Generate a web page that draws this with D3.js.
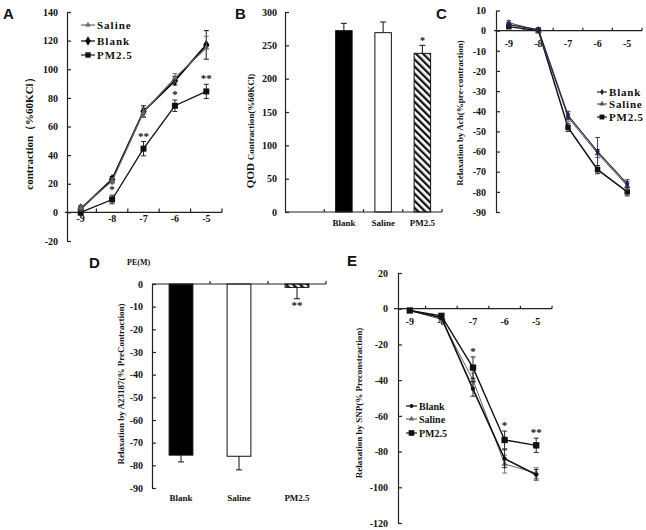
<!DOCTYPE html>
<html>
<head>
<meta charset="utf-8">
<script src="https://cdn.jsdelivr.net/npm/d3@7"></script>
<style>
  body { margin: 0; background: #fff; }
  text { font-family: "Liberation Serif", "Times New Roman", serif; font-weight: bold; fill: #111; }
  .letter { font-family: "Liberation Sans", Arial, sans-serif; font-size: 15px; font-weight: bold; }
</style>
</head>
<body>
<script>
// ---- data ----
var doses = [-9, -8, -7, -6, -5];
var seriesNames = ["Saline", "Blank", "PM2.5"];

// A: contraction (%60KCl) vs PE(M)
var aSaline = [3, 22, 70, 94, 115];
var aSalineErr = [2, 2, 3, 3, 8];
var aBlank = [2.5, 23, 70.5, 92, 117];
var aBlankErr = [2, 2, 4, 3, 10];
var aPM = [0, 9, 44.5, 74.5, 84.5];
var aPMErr = [2, 3, 5, 4, 5];
var aStars = ["", "*", "**", "*", "**"];
var aTicks = [-20, 0, 20, 40, 60, 80, 100, 120, 140];

// B: QOD contraction bars
var bGroups = ["", "Blank", "Saline", "PM2.5"];
var bValues = [null, 272, 269, 238];
var bErr = [null, 11, 16, 12];
var bStars = ["", "", "", "*"];
var bTicks = [0, 50, 100, 150, 200, 250, 300];

// C: relaxation by ACh
var cBlank = [3, 0.5, -42, -60, -76];
var cBlankErr = [1, 1, 2, 7, 2];
var cSaline = [4, 0, -43, -61, -77];
var cSalineErr = [1, 1, 2, 2, 2];
var cPM = [2, 0, -48, -69, -80];
var cPMErr = [1, 1, 2, 2, 2];
var cTicks = [10, 0, -10, -20, -30, -40, -50, -60, -70, -80, -90];

// D: relaxation by A23187 bars
var dGroups = ["Blank", "Saline", "PM2.5"];
var dValues = [-75.5, -76, -1.5];
var dErr = [3, 6, 5];
var dStars = ["", "", "**"];
var dTicks = [0, -10, -20, -30, -40, -50, -60, -70, -80, -90];

// E: relaxation by SNP
var eBlank = [-1, -5, -45, -84, -93];
var eBlankErr = [1, 1, 4, 5, 3];
var eSaline = [-1, -6, -40, -87, -92];
var eSalineErr = [1, 1, 4, 5, 3];
var ePM = [-1, -4, -33, -73.5, -76.5];
var ePMErr = [1, 1, 6, 5, 4];
var eStars = ["", "", "*", "*", "**"];
var eTicks = [20, 0, -20, -40, -60, -80, -100, -120];

var svg = d3.select("body").append("svg")
  .attr("width", 646)
  .attr("height", 530);

svg.append("rect").attr("width", 646).attr("height", 530).attr("fill", "#fff");

// hatch for PM2.5 bars
svg.append("defs").append("pattern")
  .attr("id", "hatch")
  .attr("patternUnits", "userSpaceOnUse")
  .attr("width", 5).attr("height", 5)
  .attr("patternTransform", "rotate(-45)")
  .append("rect")
  .attr("width", 2.3).attr("height", 5)
  .attr("fill", "#111");

var serif = "'Liberation Serif', 'Times New Roman', serif";

// ---- helpers ----
function yAxis(g, y, x0, ticks, pad) {
  var ax = g.append("g")
    .attr("transform", `translate(${x0},0)`)
    .call(d3.axisLeft(y).tickValues(ticks).tickSizeInner(-4).tickSizeOuter(0)
      .tickPadding(pad).tickFormat(d => String(d)));
  ax.attr("font-family", serif).attr("font-size", 10);
  ax.selectAll("text").attr("fill", "#111");
  ax.selectAll("path, line").attr("stroke", "#222").attr("stroke-width", 1.2);
  return ax;
}

// category x axis: line at y0, tick marks between categories, labels at centres
function xAxis(g, x, y0, labelY, pad, tickUp) {
  var r = x.range();
  g.append("line").attr("x1", r[0]).attr("x2", r[1]).attr("y1", y0).attr("y2", y0)
    .attr("stroke", "#222").attr("stroke-width", 1.2);
  g.selectAll(null).data(x.domain()).enter().append("line")
    .attr("x1", d => x(d) + x.bandwidth()).attr("x2", d => x(d) + x.bandwidth())
    .attr("y1", y0).attr("y2", y0 - tickUp)
    .attr("stroke", "#222").attr("stroke-width", 1.2);
  var ax = g.append("g")
    .attr("transform", `translate(0,${labelY})`)
    .call(d3.axisBottom(x).tickSize(0).tickPadding(pad).tickFormat(d => String(d)));
  ax.attr("font-family", serif).attr("font-size", 10);
  ax.selectAll("text").attr("fill", "#111");
  ax.select(".domain").remove();
  return ax;
}

function yTitle(g, x, y, txt, size) {
  g.append("text")
    .attr("transform", `translate(${x},${y}) rotate(-90)`)
    .attr("text-anchor", "middle")
    .attr("font-size", size)
    .text(txt);
}

function drawSeries(g, x, y, vals, errs, st) {
  var cx = (d, i) => x(doses[i]) + x.bandwidth() / 2;
  g.append("path").datum(vals)
    .attr("d", d3.line().x(cx).y(d => y(d)))
    .attr("fill", "none").attr("stroke", st.color).attr("stroke-width", st.width);
  var eb = g.selectAll(null).data(vals).enter().append("g");
  eb.append("line")
    .attr("x1", cx).attr("x2", cx)
    .attr("y1", (d, i) => y(d - errs[i])).attr("y2", (d, i) => y(d + errs[i]))
    .attr("stroke", st.color).attr("stroke-width", 0.9);
  [-1, 1].forEach(function(s) {
    eb.append("line")
      .attr("x1", (d, i) => cx(d, i) - 2.5).attr("x2", (d, i) => cx(d, i) + 2.5)
      .attr("y1", (d, i) => y(d + s * errs[i])).attr("y2", (d, i) => y(d + s * errs[i]))
      .attr("stroke", st.color).attr("stroke-width", 0.9);
  });
  g.selectAll(null).data(vals).enter().append("path")
    .attr("transform", (d, i) => `translate(${cx(d, i)},${y(d)})`)
    .attr("d", d3.symbol().type(st.symbol).size(st.size))
    .attr("fill", st.color);
}

function legend(g, x0, ys, names, styles, lineLen, fontSize, spacing) {
  names.forEach(function(n, i) {
    var st = styles[n];
    g.append("line").attr("x1", x0).attr("x2", x0 + lineLen).attr("y1", ys[i]).attr("y2", ys[i])
      .attr("stroke", st.color).attr("stroke-width", 1.2);
    g.append("path").attr("transform", `translate(${x0 + lineLen / 2},${ys[i]})`)
      .attr("d", d3.symbol().type(st.symbol).size(st.size * 0.8)).attr("fill", st.color);
    g.append("text").attr("x", x0 + lineLen + 2).attr("y", ys[i]).attr("dy", "0.35em")
      .attr("font-size", fontSize).attr("letter-spacing", spacing).attr("font-weight", "normal")
      .text(n);
  });
}

function stars(g, x, y, vals, errs, marks, dir) {
  g.selectAll(null).data(marks).enter().append("text")
    .attr("x", (d, i) => x(doses[i]) + x.bandwidth() / 2)
    .attr("y", (d, i) => y(vals[i] + errs[i] * dir) - 2)
    .attr("text-anchor", "middle").attr("font-size", 11)
    .text(d => d);
}

// ---- panel A ----
var gA = svg.append("g");
var xA = d3.scaleBand().domain(doses).range([65, 222]);
var yA = d3.scaleLinear().domain([-20, 140]).range([241, 12]);
yAxis(gA, yA, 67, aTicks, 9);
xAxis(gA, xA, yA(0), yA(0), 3, 4);
yTitle(gA, 33, 131, "contraction（%60KCl）", 11);
var stA = {
  "Saline": { color: "#666", width: 1.2, symbol: d3.symbolTriangle, size: 16 },
  "Blank": { color: "#000", width: 1.8, symbol: d3.symbolDiamond, size: 34 },
  "PM2.5": { color: "#111", width: 1.3, symbol: d3.symbolSquare, size: 36 }
};
drawSeries(gA, xA, yA, aPM, aPMErr, stA["PM2.5"]);
drawSeries(gA, xA, yA, aBlank, aBlankErr, stA["Blank"]);
drawSeries(gA, xA, yA, aSaline, aSalineErr, stA["Saline"]);
stars(gA, xA, yA, aPM, aPMErr, aStars, 1);
legend(gA, 81, [25, 41, 55], ["Saline", "Blank", "PM2.5"], stA, 14, 11, 1);
gA.append("text").attr("class", "letter").attr("x", 3).attr("y", 19).text("A");

// ---- panel B ----
var gB = svg.append("g");
var xB = d3.scaleBand().domain(bGroups).range([285, 442]);
var yB = d3.scaleLinear().domain([0, 300]).range([212, 12]);
yAxis(gB, yB, 285, bTicks, 8);
var bw = xB.bandwidth() * 0.42;
var bData = bGroups.map((g, i) => ({ g: g, v: bValues[i], e: bErr[i], s: bStars[i] })).filter(d => d.v !== null);
var fillB = { "Blank": "#000", "Saline": "#fff", "PM2.5": "url(#hatch)" };
gB.selectAll(null).data(bData).enter().append("rect")
  .attr("x", d => xB(d.g) + (xB.bandwidth() - bw) / 2).attr("width", bw)
  .attr("y", d => yB(d.v)).attr("height", d => yB(0) - yB(d.v))
  .attr("fill", d => fillB[d.g]).attr("stroke", "#111").attr("stroke-width", 1);
gB.selectAll(null).data(bData).enter().append("path")
  .attr("d", function(d) {
    var c = xB(d.g) + xB.bandwidth() / 2;
    return `M${c},${yB(d.v)}V${yB(d.v + d.e)}M${c - 3},${yB(d.v + d.e)}H${c + 3}`;
  })
  .attr("stroke", "#111").attr("stroke-width", 1);
gB.selectAll(null).data(bData).enter().append("text")
  .attr("x", d => xB(d.g) + xB.bandwidth() / 2).attr("y", d => yB(d.v + d.e) - 1)
  .attr("text-anchor", "middle").attr("font-size", 10).text(d => d.s);
var axB = xAxis(gB, xB, yB(0), yB(0), 8, 3);
axB.selectAll("text").attr("font-size", 9);
var tB = gB.append("text")
  .attr("transform", "translate(254,131) rotate(-90)")
  .attr("text-anchor", "middle").attr("font-size", 9);
tB.append("tspan").attr("font-size", 11).text("QOD ");
tB.append("tspan").text("Contraction(%60KCl)");
gB.append("text").attr("class", "letter").attr("x", 235).attr("y", 19).text("B");

// ---- panel C ----
var gC = svg.append("g");
var xC = d3.scaleBand().domain(doses).range([494, 642]);
var yC = d3.scaleLinear().domain([-90, 10]).range([212, 10.5]);
yAxis(gC, yC, 496, cTicks, 10);
xAxis(gC, xC, yC(0), yC(0), 9, 3);
yTitle(gC, 463, 113, "Relaxation by Ach(%pre-contraction)", 9);
var stC = {
  "Blank": { color: "#1d2247", width: 1.2, symbol: d3.symbolDiamond, size: 16 },
  "Saline": { color: "#555", width: 1, symbol: d3.symbolTriangle, size: 16 },
  "PM2.5": { color: "#111", width: 1.5, symbol: d3.symbolSquare, size: 30 }
};
drawSeries(gC, xC, yC, cPM, cPMErr, stC["PM2.5"]);
drawSeries(gC, xC, yC, cSaline, cSalineErr, stC["Saline"]);
drawSeries(gC, xC, yC, cBlank, cBlankErr, stC["Blank"]);
legend(gC, 597, [92, 104, 117], ["Blank", "Saline", "PM2.5"], stC, 10, 11, 0.8);
gC.append("text").attr("class", "letter").attr("x", 436).attr("y", 19).text("C");

// ---- panel D ----
var gD = svg.append("g");
var xD = d3.scaleBand().domain(dGroups).range([152, 326]);
var yD = d3.scaleLinear().domain([-90, 0]).range([488, 284]);
yAxis(gD, yD, 152, dTicks, 9);
var dw = xD.bandwidth() * 0.41;
var dData = dGroups.map((g, i) => ({ g: g, v: dValues[i], e: dErr[i], s: dStars[i] }));
gD.selectAll(null).data(dData).enter().append("rect")
  .attr("x", d => xD(d.g) + (xD.bandwidth() - dw) / 2).attr("width", dw)
  .attr("y", yD(0)).attr("height", d => yD(d.v) - yD(0))
  .attr("fill", d => fillB[d.g]).attr("stroke", "#111").attr("stroke-width", 1);
gD.selectAll(null).data(dData).enter().append("path")
  .attr("d", function(d) {
    var c = xD(d.g) + xD.bandwidth() / 2;
    return `M${c},${yD(d.v)}V${yD(d.v - d.e)}M${c - 3},${yD(d.v - d.e)}H${c + 3}`;
  })
  .attr("stroke", "#111").attr("stroke-width", 1);
gD.selectAll(null).data(dData).enter().append("text")
  .attr("x", d => xD(d.g) + xD.bandwidth() / 2).attr("y", d => yD(d.v - d.e) + 10)
  .attr("text-anchor", "middle").attr("font-size", 11).text(d => d.s);
var axD = xAxis(gD, xD, yD(0), yD(-90), 7, 3);
axD.selectAll("text").attr("font-size", 9);
yTitle(gD, 124, 384, "Relaxation by A23187(% PreContraction)", 9);
gD.append("text").attr("x", 127).attr("y", 265).attr("font-size", 8).attr("font-weight", "normal").text("PE(M)");
gD.append("text").attr("class", "letter").attr("x", 89).attr("y", 268).text("D");

// ---- panel E ----
var gE = svg.append("g");
var xE = d3.scaleBand().domain(doses).range([394, 552]);
var yE = d3.scaleLinear().domain([-120, 20]).range([523, 273]);
yAxis(gE, yE, 398, eTicks, 10);
xAxis(gE, xE, yE(0), yE(0), 9, 3);
yTitle(gE, 362, 403, "Relaxation by SNP(% Preconstraction)", 9);
var stE = {
  "Blank": { color: "#111", width: 1.6, symbol: d3.symbolCircle, size: 14 },
  "Saline": { color: "#666", width: 1, symbol: d3.symbolTriangle, size: 16 },
  "PM2.5": { color: "#111", width: 1.4, symbol: d3.symbolSquare, size: 40 }
};
drawSeries(gE, xE, yE, eSaline, eSalineErr, stE["Saline"]);
drawSeries(gE, xE, yE, eBlank, eBlankErr, stE["Blank"]);
drawSeries(gE, xE, yE, ePM, ePMErr, stE["PM2.5"]);
stars(gE, xE, yE, ePM, ePMErr, eStars, 1);
legend(gE, 406, [406, 419, 433], ["Blank", "Saline", "PM2.5"], stE, 11, 10, 0);
gE.append("text").attr("class", "letter").attr("x", 347).attr("y", 266).text("E");
</script>
</body>
</html>
